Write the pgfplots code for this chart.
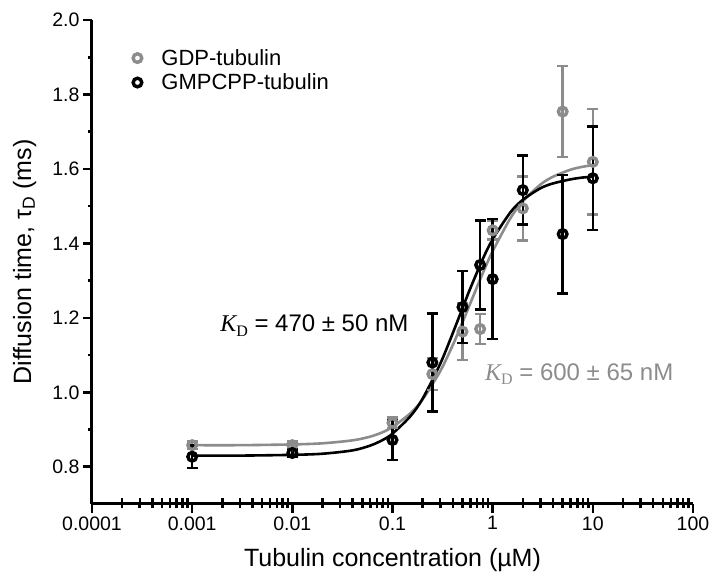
\documentclass[border=0pt]{standalone}
\usepackage{fontspec}
\setmainfont{Liberation Sans}
\newfontfamily\timesf{Liberation Serif}
\usepackage{pgfplots}
\pgfplotsset{compat=1.18}
\definecolor{gdp}{RGB}{140,140,140}
\pgfplotsset{mylegimg/.style={legend image code/.code={\draw[##1] plot coordinates {(0pt,0pt)}; \path[draw=none] (-5pt,0pt) -- (22pt,0pt);}}}

\pgfplotstableread{
x y
0.001 0.858
0.003 0.858
0.01 0.860
0.02 0.863
0.04 0.871
0.06 0.881
0.08 0.893
0.1 0.907
0.15 0.943
0.2 0.981
0.3 1.057
0.4 1.127
0.5 1.188
0.6 1.240
0.8 1.321
1 1.379
1.5 1.467
2 1.513
3 1.558
4 1.579
6 1.598
8 1.606
10 1.610
}\gdpfit

\pgfplotstableread{
x y
0.001 0.830
0.003 0.830
0.01 0.832
0.02 0.835
0.04 0.844
0.06 0.857
0.08 0.872
0.1 0.889
0.15 0.935
0.2 0.983
0.3 1.077
0.4 1.159
0.5 1.226
0.6 1.280
0.8 1.359
1 1.411
1.5 1.483
2 1.517
3 1.548
4 1.561
6 1.572
8 1.577
10 1.579
}\gmpfit

\pgfplotstableread{
x y e
0.001 0.858 0.010
0.01 0.858 0.010
0.1 0.918 0.014
0.25 1.049 0.043
0.5 1.163 0.076
0.75 1.170 0.040
1 1.435 0.025
2 1.494 0.086
5 1.754 0.122
10 1.619 0.142
}\gdpdata

\pgfplotstableread{
x y e
0.001 0.827 0.030
0.01 0.837 0.010
0.1 0.872 0.054
0.25 1.080 0.131
0.5 1.229 0.097
0.75 1.342 0.120
1 1.304 0.161
2 1.543 0.093
5 1.425 0.159
10 1.575 0.139
}\gmpdata

\begin{document}
\begin{tikzpicture}
% inward minor ticks on the x axis
\begin{axis}[
  at={(0pt,0pt)}, anchor=south west,
  scale only axis, width=601pt, height=484pt,
  xmode=log, xmin=1e-4, xmax=100, ymin=0.7, ymax=2.0,
  axis x line*=bottom, axis y line=none,
  axis line style={line width=3pt},
  xtick={1e-4,1e-3,1e-2,1e-1,1,10,100},
  xticklabels={{},{},{},{},{},{},{}},
  ytick=\empty,
  minor xtick={2e-4,3e-4,4e-4,5e-4,6e-4,7e-4,8e-4,9e-4,
    2e-3,3e-3,4e-3,5e-3,6e-3,7e-3,8e-3,9e-3,
    2e-2,3e-2,4e-2,5e-2,6e-2,7e-2,8e-2,9e-2,
    0.2,0.3,0.4,0.5,0.6,0.7,0.8,0.9,
    2,3,4,5,6,7,8,9,20,30,40,50,60,70,80,90},
  tick align=inside, major tick length=0pt, minor tick length=5.5pt,
  every tick/.style={line width=2.4pt, black},
]
\end{axis}
\begin{axis}[
  at={(0pt,0pt)}, anchor=south west,
  scale only axis, width=601pt, height=484pt,
  xmode=log, xmin=1e-4, xmax=100, ymin=0.7, ymax=2.0,
  axis x line*=bottom, axis y line*=left,
  axis line style={line width=3pt},
  xtick={1e-4,1e-3,1e-2,1e-1,1,10,100},
  xticklabels={0.0001,0.001,0.01,0.1,1,10,100},
  ytick={0.8,1.0,1.2,1.4,1.6,1.8,2.0},
  minor ytick={0.9,1.1,1.3,1.5,1.7,1.9},
  yticklabel style={/pgf/number format/.cd, fixed, fixed zerofill, precision=1},
  /pgf/number format/assume math mode=true,
  tick label style={font=\fontsize{19.5}{19.5}\selectfont},
  tick align=outside, major tick length=9pt, minor tick length=4.5pt,
  every tick/.style={line width=2.6pt, black},
  xlabel={Tubulin concentration (µM)},
  ylabel={Diffusion time, τ\textsubscript{D} (ms)},
  label style={font=\fontsize{25}{25}\selectfont},
  xlabel style={at={(axis description cs:0.5,-0.116)}, anchor=center},
  ylabel style={at={(axis description cs:-0.112,0.5)}, anchor=center},
  legend style={draw=none, fill=none, at={(0.062,0.948)}, anchor=north west,
    font=\fontsize{22}{22}\selectfont, row sep=3pt},
  legend cell align=left,
  clip=false,
]
\addlegendimage{only marks, mark=o, mark size=4.3pt, gdp, mark options={line width=3.4pt}, mylegimg}
\addlegendentry{GDP-tubulin}
\addlegendimage{only marks, mark=o, mark size=4.3pt, black, mark options={line width=3.4pt}, mylegimg}
\addlegendentry{GMPCPP-tubulin}

\addplot[gdp, line width=2.6pt, smooth, no marks, forget plot] table[x=x,y=y] {\gdpfit};
\addplot[black, line width=2.6pt, smooth, no marks, forget plot] table[x=x,y=y] {\gmpfit};

\addplot[gdp, only marks, mark=o, mark size=4.3pt, mark options={line width=3.4pt}, forget plot,
  error bars/.cd, y dir=both, y explicit,
  error bar style={line width=2.6pt, gdp},
  error mark options={rotate=90, line width=2.6pt, mark size=5.5pt, gdp}]
  table[x=x, y=y, y error=e] {\gdpdata};
\addplot[black, only marks, mark=o, mark size=4.3pt, mark options={line width=3.4pt}, forget plot,
  error bars/.cd, y dir=both, y explicit,
  error bar style={line width=2.6pt, black},
  error mark options={rotate=90, line width=2.6pt, mark size=5.5pt, black}]
  table[x=x, y=y, y error=e] {\gmpdata};

\node[anchor=base west, inner sep=0pt, font=\fontsize{24}{24}\selectfont] at (axis cs:0.0019,1.163)
  {{\timesf\itshape K}\raisebox{-0.35ex}{\timesf\fontsize{16}{16}\selectfont D} = 470 ± 50 nM};
\node[anchor=base west, inner sep=0pt, text=gdp, font=\fontsize{24}{24}\selectfont] at (axis cs:0.837,1.033)
  {{\timesf\itshape K}\raisebox{-0.35ex}{\timesf\fontsize{16}{16}\selectfont D} = 600 ± 65 nM};
\end{axis}
\pgfresetboundingbox
\path (-92pt,-74pt) rectangle (621pt,504pt);
\end{tikzpicture}
\end{document}
